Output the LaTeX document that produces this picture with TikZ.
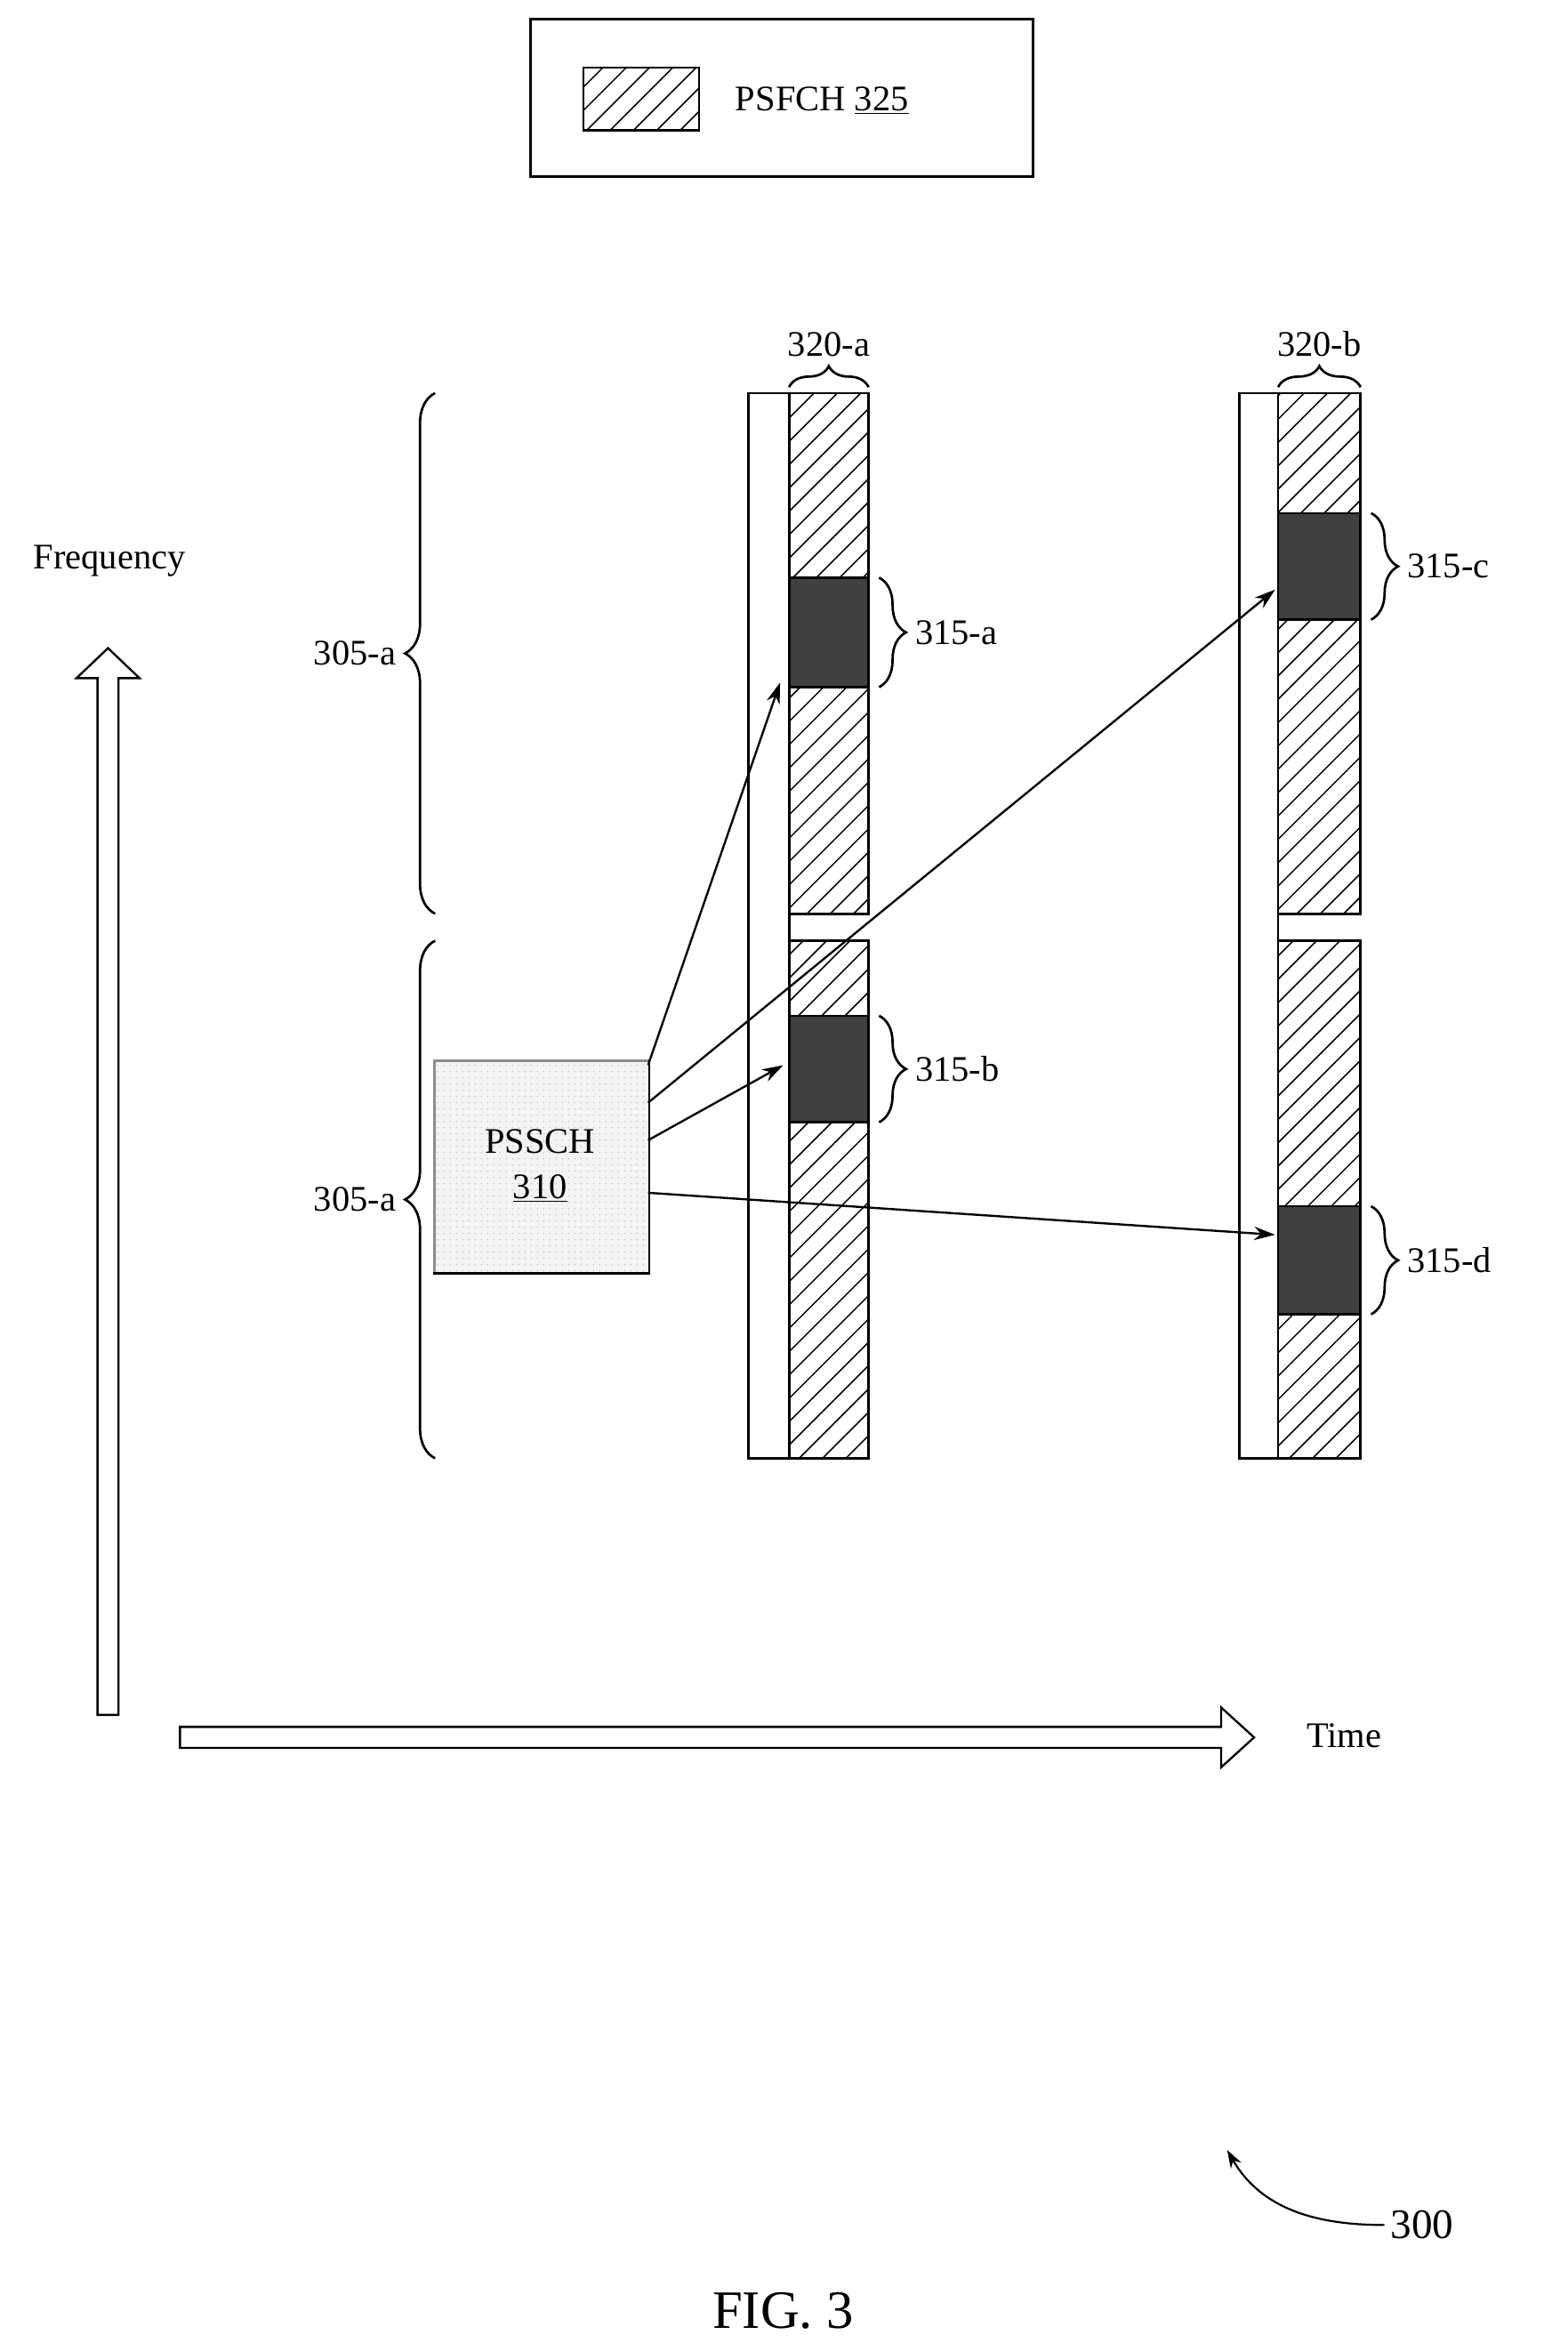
\documentclass[tikz,border=0pt]{standalone}
\usepackage{fontspec}
\setmainfont{Liberation Serif}
\usetikzlibrary{patterns.meta,decorations.pathreplacing,arrows.meta}
\begin{document}
\begin{tikzpicture}[x=1pt,y=-1pt,line width=1.6pt,
  lbl/.style={font=\fontsize{24}{28}\selectfont},
  hatch/.style={draw,pattern={Lines[angle=45,distance=11pt,line width=0.9pt]}},
  dark/.style={draw,fill=black!75},
  br/.style={decorate,decoration={brace,amplitude=14pt}},
  arr/.style={-{Stealth[length=14pt,width=9pt]},line width=1.4pt}]
\useasboundingbox (0,0) rectangle (1045,1567);
% legend
\node[draw,minimum width=335,minimum height=105,anchor=north west] (legend) at (353,12) {};
\draw[hatch] (389,45) rectangle (466,87);
\node[lbl] (lt) at (548,67) {PSFCH \underline{325}};
% column A
\draw (499,262) rectangle (526,972);
\draw[hatch] (526,262) rectangle (579,609);
\draw[hatch] (526,627) rectangle (579,972);
\draw[dark] (526,385) rectangle (579,458);
\draw[dark] (526,677) rectangle (579,748);
% column B
\draw (826,262) rectangle (852,972);
\draw[hatch] (852,262) rectangle (907,609);
\draw[hatch] (852,627) rectangle (907,972);
\draw[dark] (852,342) rectangle (907,413);
\draw[dark] (852,804) rectangle (907,876);
\coordinate (ta) at (520,455); \coordinate (tb) at (522,710);
\coordinate (tc) at (850,393); \coordinate (td) at (850,823);
% top braces
\draw[br] (526,258) -- (579,258) node[midway,above=16pt,lbl] {320-a};
\draw[br] (852,258) -- (907,258) node[midway,above=16pt,lbl] {320-b};
% left braces
\draw[br,decoration={amplitude=20pt}] (290,609) -- (290,262) node[midway,left=22pt,lbl] {305-a};
\draw[br,decoration={amplitude=20pt}] (290,972) -- (290,627) node[midway,left=22pt,lbl] {305-a};
% right braces
\draw[br,decoration={amplitude=18pt}] (586,385) -- (586,458) node[midway,right=20pt,lbl] {315-a};
\draw[br,decoration={amplitude=18pt}] (586,677) -- (586,748) node[midway,right=20pt,lbl] {315-b};
\draw[br,decoration={amplitude=18pt}] (914,342) -- (914,413) node[midway,right=20pt,lbl] {315-c};
\draw[br,decoration={amplitude=18pt}] (914,804) -- (914,876) node[midway,right=20pt,lbl] {315-d};
% PSSCH
\node[draw,minimum width=143,minimum height=142,anchor=north west,
  pattern={Dots[distance=4pt,radius=0.45pt]},pattern color=black!70] (ps) at (289,706) {};
\fill[black!8,fill opacity=0.6] (289,706) rectangle (432,848);
\node[lbl,align=center] (pst) at (360,777) {PSSCH\\[2pt]\underline{310}};
\draw[arr] (432,710) -- (ta);
\draw[arr] (432,735) -- (tc);
\draw[arr] (432,760) -- (tb);
\draw[arr] (432,795) -- (td);
% axes
\draw[line width=1.4pt] (65,1143) -- (65,452) -- (51,452) -- (72,432) -- (93,452) -- (79,452) -- (79,1143) -- cycle;
\draw[line width=1.4pt] (120,1151) -- (814,1151) -- (814,1138) -- (836,1158) -- (814,1178) -- (814,1165) -- (120,1165) -- cycle;
\node[lbl] (fq) at (73,374) {Frequency};
\node[lbl] (tm) at (896,1157) {Time};
% label 300
\node[lbl,font=\fontsize{28}{32}\selectfont] (n300) at (948,1483) {300};
\draw[-{Stealth[length=12pt,width=8pt]},line width=1.3pt] (n300.west) to[out=180,in=-60] (818,1433);
\node[font=\fontsize{36}{40}\selectfont] (fig) at (522,1540) {FIG. 3};
\end{tikzpicture}
\end{document}
